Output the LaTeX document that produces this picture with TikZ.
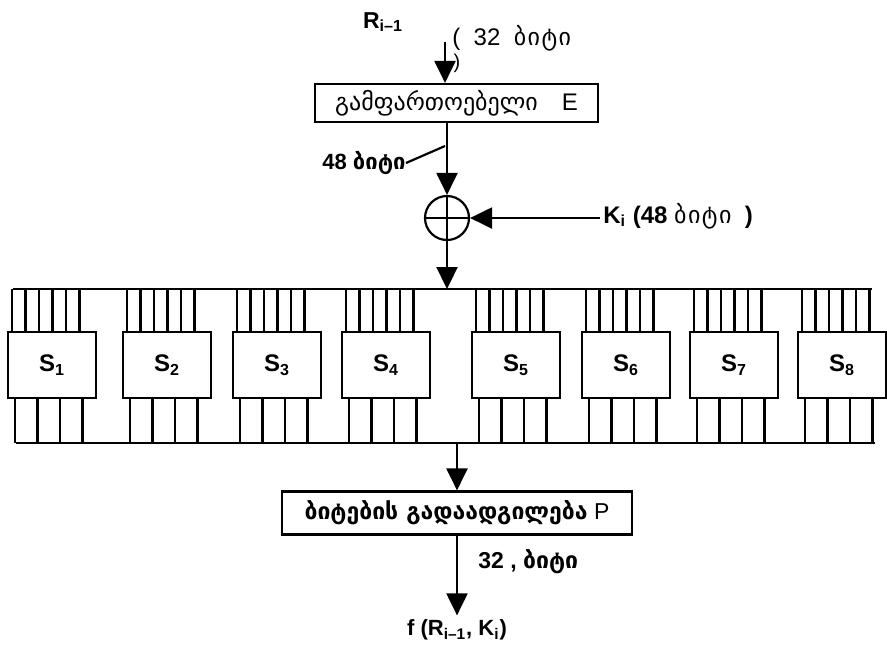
\documentclass[tikz,border=0pt]{standalone}
\usepackage{fontspec}
\setmainfont{Liberation Sans}
\newfontfamily\geo{DejaVu Sans}
\newfontfamily\geosp{DejaVu Sans}[LetterSpace=6]
\usetikzlibrary{arrows.meta,positioning,calc}

\tikzset{
  box/.style={draw, line width=1.1pt, inner sep=0pt},
  sbox/.style={box, minimum width=44pt, minimum height=33pt, font=\fontsize{12}{14}\selectfont\bfseries},
  arr/.style={line width=1.1pt, -{Triangle[length=11pt,width=10.5pt]}},
  wire/.style={line width=1.1pt},
  lbl/.style={inner sep=0pt, font=\fontsize{11}{13}\selectfont}
}

\begin{document}
\begin{tikzpicture}[x=0.5pt,y=-0.5pt]
\useasboundingbox (0,0) rectangle (887,645);

% input and expansion
\node[lbl,font=\fontsize{11.5}{13}\selectfont\bfseries] (rlab) at (383,22) {R\textsubscript{i--1}};
\node[lbl,anchor=west,font=\fontsize{12}{14}\selectfont] (r32) at (452,38) {(\ \ 32\ \ {\geosp ბიტი}};
\node[lbl,font=\fontsize{10}{12}\selectfont] (rpar) at (457,63) {)};
\coordinate (rin) at (445,42);
\node[box,minimum width=141.5pt,minimum height=19pt,font=\fontsize{12}{14}\selectfont] (expE) at (456.5,103) {{\geo გამფართოებელი}\quad E};

% xor with the key
\node[draw,circle,line width=1.1pt,minimum size=22pt,inner sep=0pt,
  path picture={\draw[line width=0.9pt] (path picture bounding box.north) -- (path picture bounding box.south)
    (path picture bounding box.west) -- (path picture bounding box.east);}] (xor) at (447,218) {};
\node[lbl,anchor=west,font=\fontsize{11}{13}\selectfont\bfseries] (w48) at (322,163) {48 {\geo ბიტი}};
\coordinate (tap) at (445,146);
\coordinate (kin) at (600,218);
\node[lbl,anchor=west,font=\fontsize{12}{14}\selectfont] (klab) at (603,216) {\bfseries K\textsubscript{i} (48 \mdseries{\geosp ბიტი}\ \ \bfseries)};

% S-boxes
\coordinate (btop) at (447,289);
\coordinate (bbot) at (455,443);
\draw[wire] (13,289) -- (872,289);
\draw[wire] (16,443) -- (875,443);
\node[sbox] (s1) at (52,365) {S\textsubscript{1}};
\node[sbox] (s2) at (167,365) {S\textsubscript{2}};
\node[sbox] (s3) at (277,365) {S\textsubscript{3}};
\node[sbox] (s4) at (386,365) {S\textsubscript{4}};
\node[sbox] (s5) at (516,365) {S\textsubscript{5}};
\node[sbox] (s6) at (626,365) {S\textsubscript{6}};
\node[sbox] (s7) at (734,365) {S\textsubscript{7}};
\node[sbox] (s8) at (842,365) {S\textsubscript{8}};
\foreach \s in {1,...,8}{
  \foreach \k in {0,...,5}
    \draw[wire] ($(s\s.north west)+(5+13.5*\k,0)$) coordinate (w) -- (w |- btop);
  \foreach \k in {0,...,3}
    \draw[wire] ($(s\s.south west)+(8+22.5*\k,0)$) coordinate (w) -- (w |- bbot);
}

% permutation and output
\node[box,minimum width=175pt,minimum height=21.5pt,font=\fontsize{11.5}{13}\selectfont] (permP) at (457,513) {{\geo\bfseries ბიტების გადაადგილება} P\hspace{12pt}};
\node[lbl,anchor=west,font=\fontsize{11.5}{13}\selectfont\bfseries] (p32) at (478,562) {32 , {\geo ბიტი}};
\node[lbl,font=\fontsize{11}{13}\selectfont\bfseries] (fout) at (457,630) {f (R\textsubscript{i--1}, K\textsubscript{i})};

\draw[arr] (rin) -- (rin |- expE.north);
\draw[arr] (xor |- expE.south) -- (xor.north);
\draw[wire] (w48.east) -- (tap);
\draw[arr] (kin) -- (xor.east);
\draw[arr] (xor.south) -- (xor |- btop);
\draw[arr] (permP.north |- bbot) -- (permP.north);
\draw[arr] (permP.south) -- ([yshift=2pt]fout.north);
\end{tikzpicture}
\end{document}
